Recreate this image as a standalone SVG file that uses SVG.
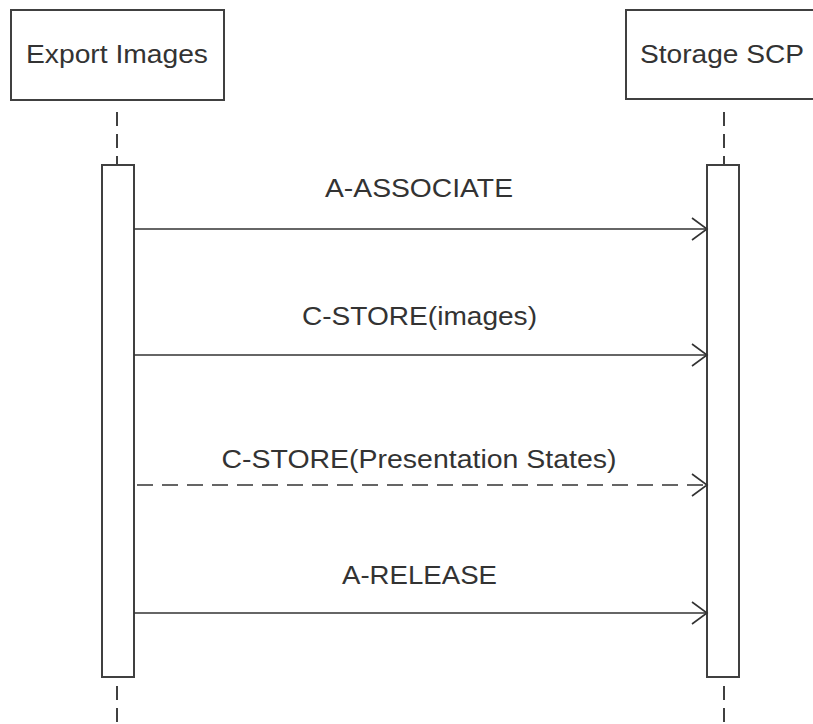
<svg xmlns="http://www.w3.org/2000/svg" width="813" height="724" viewBox="0 0 813 724">
<style>
.box{fill:#fff;stroke:#404040;stroke-width:2}
.act{fill:#fff;stroke:#404040;stroke-width:2}
.life{stroke:#404040;stroke-width:2;stroke-dasharray:14,8;fill:none}
.msg{stroke:#333;stroke-width:1.6;fill:none}
.dash{stroke-dasharray:16,9}
.t{font-family:"Liberation Sans",Arial,sans-serif;font-size:26px;fill:#333;text-anchor:middle}
</style>
<defs>
<marker id="open" markerWidth="20" markerHeight="26" refX="16" refY="12" orient="auto" markerUnits="userSpaceOnUse">
<path d="M1,1 L16,12 L1,23" fill="none" stroke="#333" stroke-width="1.6"/>
</marker>
</defs>
<rect width="813" height="724" fill="#fff"/>
<g id="lifelines">
<line class="life" x1="117" y1="112" x2="117" y2="164"/>
<line class="life" x1="117" y1="686" x2="117" y2="724"/>
<line class="life" x1="724" y1="112" x2="724" y2="164"/>
<line class="life" x1="724" y1="686" x2="724" y2="724"/>
</g>
<g id="export-images">
<rect class="box" x="11" y="10" width="213" height="90"/>
<text class="t" x="117" y="63" textLength="182" lengthAdjust="spacingAndGlyphs">Export Images</text>
<rect class="act" x="102" y="165" width="32" height="512"/>
</g>
<g id="storage-scp">
<rect class="box" x="626" y="10" width="200" height="89"/>
<text class="t" x="722" y="63" textLength="164" lengthAdjust="spacingAndGlyphs">Storage SCP</text>
<rect class="act" x="707" y="165" width="32" height="512"/>
</g>
<g id="connectors">
<line class="msg" x1="134" y1="229" x2="707" y2="229" marker-end="url(#open)"/>
<text class="t" x="419" y="197" textLength="188" lengthAdjust="spacingAndGlyphs">A-ASSOCIATE</text>
<line class="msg" x1="134" y1="355" x2="707" y2="355" marker-end="url(#open)"/>
<text class="t" x="419.5" y="325" textLength="235" lengthAdjust="spacingAndGlyphs">C-STORE(images)</text>
<line class="msg dash" x1="137" y1="485" x2="707" y2="485" marker-end="url(#open)"/>
<text class="t" x="419" y="468" textLength="395" lengthAdjust="spacingAndGlyphs">C-STORE(Presentation States)</text>
<line class="msg" x1="134" y1="613" x2="707" y2="613" marker-end="url(#open)"/>
<text class="t" x="419.5" y="584" textLength="155" lengthAdjust="spacingAndGlyphs">A-RELEASE</text>
</g>
</svg>
